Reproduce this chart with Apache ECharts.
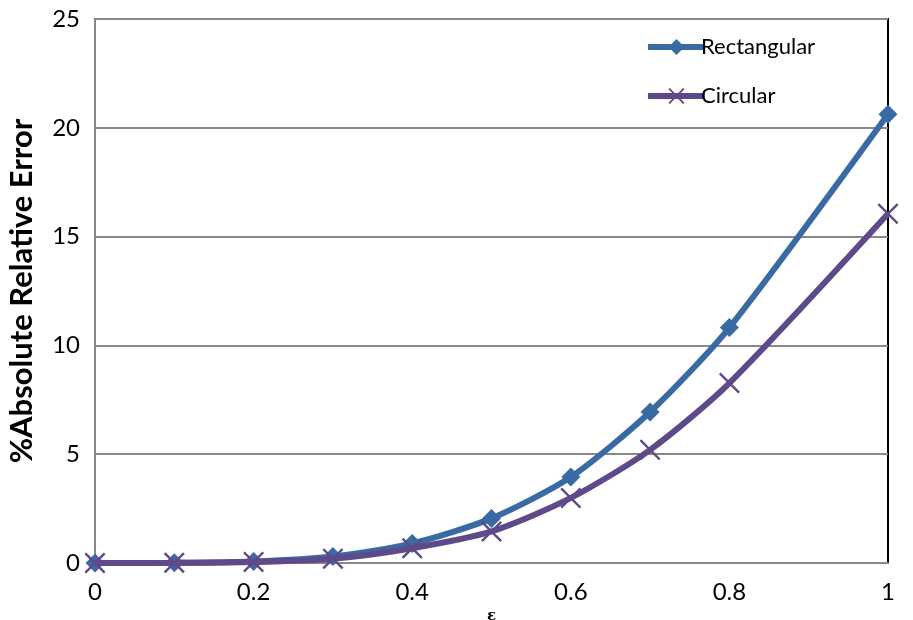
<!DOCTYPE html>
<html><head><meta charset="utf-8">
<script src="https://cdn.jsdelivr.net/npm/echarts@6/dist/echarts.min.js"></script>
<style>html,body{margin:0;padding:0;background:#fff}#c{width:913px;height:620px}</style>
</head><body><div id="c"></div>
<script>
const xValues = [0, 0.1, 0.2, 0.3, 0.4, 0.5, 0.6, 0.7, 0.8, 1.0];
const rectangular = [0, 0.01, 0.07, 0.3, 0.9, 2.05, 3.95, 6.94, 10.82, 20.62];
const circular = [0, 0.01, 0.05, 0.2, 0.68, 1.45, 2.99, 5.2, 8.27, 16.05];
const seriesNames = ['Rectangular', 'Circular'];
const xTitle = 'ε';
const yTitle = '%Absolute Relative Error';

const xSym = 'path://M0,1.3L1.3,0L8,6.7L14.7,0L16,1.3L9.3,8L16,14.7L14.7,16L8,9.3L1.3,16L0,14.7L6.7,8Z';
const font = 'Lato, "Open Sans", sans-serif';
const blue = '#3a6aa3';
const purple = '#5f4a89';
const chart = echarts.init(document.getElementById('c'), null, {renderer: 'canvas'});
chart.setOption({
  animation: false,
  backgroundColor: '#fff',
  grid: {left: 95, right: 25, top: 19, bottom: 57, outerBoundsMode: 'none', containLabel: false,
         show: true, borderColor: '#000', borderWidth: 2},
  legend: {
    left: 640, top: 31, orient: 'vertical', itemGap: 27, itemWidth: 57, itemHeight: 20,
    textStyle: {fontFamily: font, fontSize: 22, lineHeight: 22, color: '#000', padding: [0,0,0,-9]},
    data: [
      {name: seriesNames[0], lineStyle: {width: 6}},
      {name: seriesNames[1], lineStyle: {width: 6}}
    ]
  },
  xAxis: {
    type: 'value', min: 0, max: 1, interval: 0.2,
    name: xTitle, nameLocation: 'middle', nameGap: 44,
    nameTextStyle: {fontFamily: 'DejaVu Serif', fontWeight: 'bold', fontSize: 15, color: '#000'},
    axisLine: {show: true, lineStyle: {color: '#888', width: 2}},
    axisTick: {show: false},
    splitLine: {show: false},
    axisLabel: {fontFamily: font, fontSize: 24, color: '#000', margin: 17}
  },
  yAxis: {
    type: 'value', min: 0, max: 25, interval: 5,
    name: yTitle, nameLocation: 'middle', nameGap: 58, nameRotate: 90,
    nameTextStyle: {fontFamily: font, fontWeight: 'bold', fontSize: 31, color: '#000'},
    axisLine: {show: true, lineStyle: {color: '#888', width: 2}},
    axisTick: {show: false},
    splitLine: {show: true, lineStyle: {color: '#888', width: 2}},
    axisLabel: {fontFamily: font, fontSize: 24, color: '#000', margin: 15}
  },
  series: [
    {
      name: seriesNames[0], type: 'line', smooth: 0.25,
      data: xValues.map((x, i) => [x, rectangular[i]]),
      symbol: 'diamond', symbolSize: 19,
      lineStyle: {color: blue, width: 6},
      itemStyle: {color: blue}, z: 3
    },
    {
      name: seriesNames[1], type: 'line', smooth: 0.25,
      data: xValues.map((x, i) => [x, circular[i]]),
      symbol: xSym, symbolSize: 21,
      lineStyle: {color: purple, width: 6},
      itemStyle: {color: purple}, z: 4
    }
  ]
});
</script></body></html>
